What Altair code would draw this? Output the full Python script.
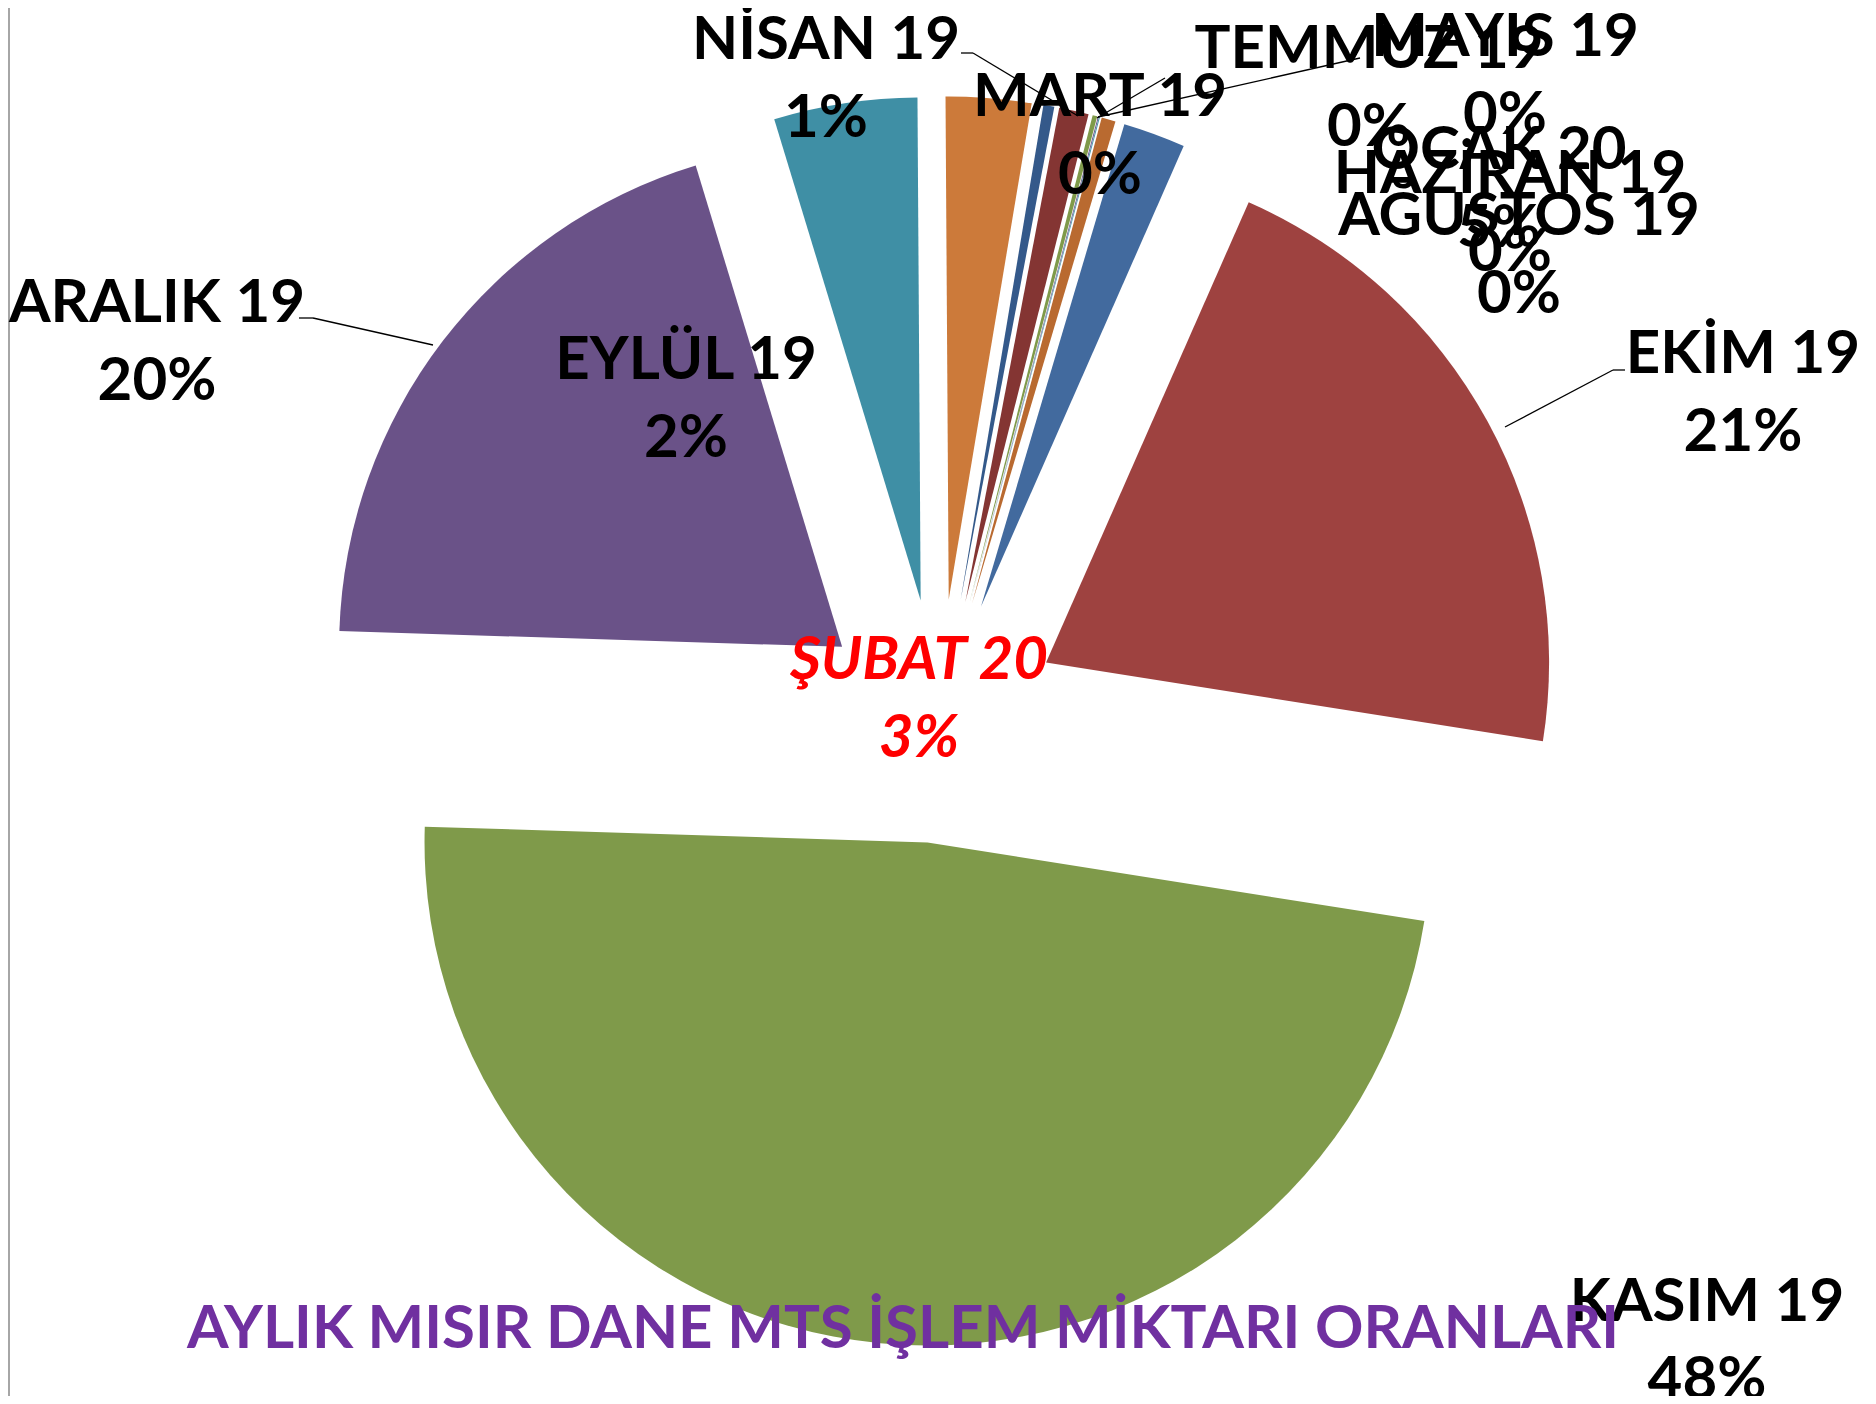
import math
import altair as alt
import pandas as pd

# ---- data ----
months = ["MART 19", "NİSAN 19", "MAYIS 19", "HAZİRAN 19", "TEMMUZ 19", "AĞUSTOS 19",
          "EYLÜL 19", "EKİM 19", "KASIM 19", "ARALIK 19", "OCAK 20", "ŞUBAT 20"]
shares = [0.35, 0.95, 0.15, 0.03, 0.03, 0.45, 2.0, 20.9, 48.0, 19.8, 4.6, 2.74]
colors = ["#34598A", "#843533", "#7F9A4A", "#6A5288", "#3F8FA5", "#B96A30",
          "#426A9E", "#9E4240", "#7F9A4A", "#6A5288", "#3F8FA5", "#CC7A3A"]

# label anchor positions (plot pixels, block centre) – annotation layout
label_x = [1092, 818, 1497, 1502, 1361, 1511, 678, 1735, 1699, 149, 1491, 911]
label_y = [90, 33, 30, 167, 42, 209, 353, 347, 1295, 296, 143, 653]
label_color = ["black"] * 11 + ["#FF0000"]

title_text = "AYLIK MISIR DANE MTS İŞLEM MİKTARI ORANLARI"

W, H = 1860, 1388
CX, CY = 931, 713      # pie centre (plot px)
EXPLODE = 122
R = 503
A0 = math.radians(9.5)

pie_df = pd.DataFrame({"month": months, "value": shares, "idx": list(range(len(months)))})
pct = [f"{round(v)}%" for v in shares]
lab_df = pd.DataFrame({
    "text": [f"{m}\n{p}" for m, p in zip(months, pct)],
    "lx": label_x, "ly": label_y, "col": label_color,
})

lines_df = pd.DataFrame({
    "x": [953, 965, 1089, 1090, 291, 305, 1617, 1605],
    "y": [45, 45, 110, 109, 310, 310, 362, 362],
    "x2": [965, 1070, 1157, 1352, 305, 425, 1605, 1497],
    "y2": [45, 108, 70, 50, 310, 337, 362, 419],
})

color_scale = alt.Scale(domain=months, range=colors)

pie = (
    alt.Chart(pie_df)
    .transform_window(cum="sum(value)", sort=[alt.SortField("idx")], frame=[None, 0])
    .transform_calculate(start="datum.cum - datum.value", end="datum.cum")
    .transform_calculate(mid=f"{A0} + PI * (datum.start + datum.end) / 100")
    .transform_calculate(px=f"{CX} + {EXPLODE} * sin(datum.mid)",
                         py=f"{CY} - {EXPLODE} * cos(datum.mid)")
    .mark_arc(radius=R)
    .encode(
        x=alt.X("px:Q", scale=None, axis=None),
        y=alt.Y("py:Q", scale=None, axis=None),
        theta=alt.Theta("start:Q", stack=None,
                        scale=alt.Scale(domain=[0, 100], range=[A0, A0 + 2 * math.pi])),
        theta2=alt.Theta2("end:Q"),
        color=alt.Color("month:N", scale=color_scale, legend=None),
    )
)

leaders = (
    alt.Chart(lines_df)
    .mark_rule(color="black", strokeWidth=1.3)
    .encode(x=alt.X("x:Q", scale=None, axis=None), y=alt.Y("y:Q", scale=None, axis=None),
            x2="x2:Q", y2="y2:Q")
)

labels_plain = (
    alt.Chart(lab_df.iloc[:11])
    .mark_text(font="Lato", fontWeight="bold", fontSize=60, lineBreak="\n",
               lineHeight=78, align="center", baseline="middle", color="black")
    .encode(x=alt.X("lx:Q", scale=None, axis=None), y=alt.Y("ly:Q", scale=None, axis=None),
            text="text:N")
)
labels_red = (
    alt.Chart(lab_df.iloc[11:])
    .mark_text(font="Lato", fontWeight="bold", fontStyle="italic", fontSize=60,
               lineBreak="\n", lineHeight=78, align="center", baseline="middle",
               color="#FF0000")
    .encode(x=alt.X("lx:Q", scale=None, axis=None), y=alt.Y("ly:Q", scale=None, axis=None),
            text="text:N")
)

title_df = pd.DataFrame({"t": [title_text]})
title = (
    alt.Chart(title_df)
    .mark_text(font="Lato", fontWeight="bold", fontSize=60, color="#7030A0",
               align="center", baseline="middle")
    .encode(x=alt.value(895), y=alt.value(1322), text="t:N")
)

border = (
    alt.Chart(pd.DataFrame({"a": [0]}))
    .mark_rule(color="#A6A6A6", strokeWidth=2)
    .encode(x=alt.value(1), y=alt.value(0), y2=alt.value(H))
)

chart = (
    alt.layer(border, pie, leaders, labels_plain, labels_red, title)
    .properties(width=W, height=H, padding=0, autosize=alt.AutoSizeParams(type="none"))
    .configure_view(stroke=None)
)

chart.save("out.html", embed_options={"renderer": "svg", "actions": False})
